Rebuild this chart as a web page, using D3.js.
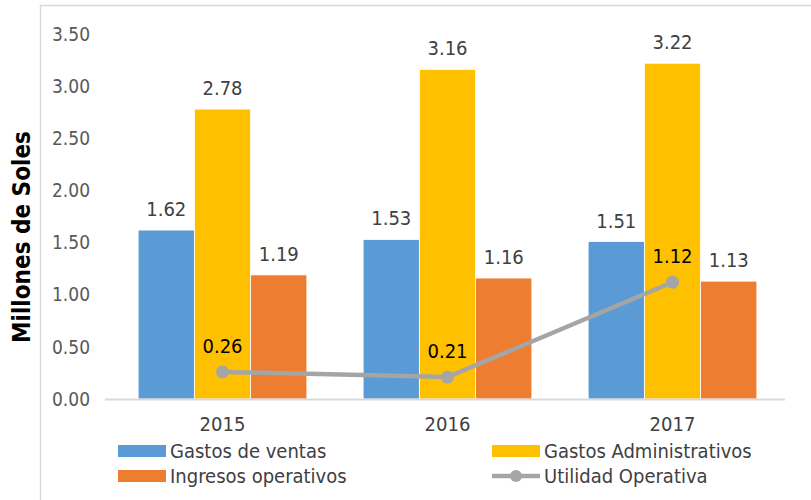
<!DOCTYPE html>
<html>
<head>
<meta charset="utf-8">
<script src="https://cdn.jsdelivr.net/npm/d3@7"></script>
<style>
  body { margin: 0; background: #fff; }
  text { font-family: "DejaVu Sans Condensed", "DejaVu Sans", sans-serif; }
</style>
</head>
<body>
<div id="chart"></div>
<script>
// data
const years = ["2015", "2016", "2017"];
const gastosVentas = [1.62, 1.53, 1.51];
const gastosAdmin = [2.78, 3.16, 3.22];
const ingresosOper = [1.19, 1.16, 1.13];
const utilidadOper = [0.26, 0.21, 1.12];
const yTicks = [0, 0.5, 1, 1.5, 2, 2.5, 3, 3.5];

const barSeries = [
    { name: "Gastos de ventas", values: gastosVentas, color: "#5B9BD5" },
    { name: "Gastos Administrativos", values: gastosAdmin, color: "#FFC000" },
    { name: "Ingresos operativos", values: ingresosOper, color: "#ED7D31" }
];

const width = 811, height = 500;
const svg = d3.select("#chart").append("svg")
    .attr("width", width)
    .attr("height", height);

// chart frame (left and top edge visible)
svg.append("line").attr("x1", 40.5).attr("x2", 40.5).attr("y1", 5).attr("y2", height)
    .attr("stroke", "#d9d9d9").attr("stroke-width", 1.5);
svg.append("line").attr("x1", 40).attr("x2", width).attr("y1", 5.5).attr("y2", 5.5)
    .attr("stroke", "#d9d9d9").attr("stroke-width", 1.5);

const x = d3.scaleBand().domain(years).range([110, 785]);
const y = d3.scaleLinear().domain([0, 3.5]).range([399, 34]);
const bw = x.bandwidth() / 4;

// y tick labels
svg.append("g").selectAll("text")
    .data(yTicks)
    .enter().append("text")
    .attr("x", 90)
    .attr("y", d => y(d))
    .attr("dy", "0.35em")
    .attr("text-anchor", "end")
    .attr("font-size", 19)
    .attr("fill", "#595959")
    .text(d => d.toFixed(2));

// y title
svg.append("text")
    .attr("transform", "translate(30,237) rotate(-90)")
    .attr("text-anchor", "middle")
    .attr("font-size", 24)
    .attr("font-weight", "bold")
    .attr("fill", "#000")
    .text("Millones de Soles");

// bars
barSeries.forEach((s, i) => {
    const g = svg.append("g");
    g.selectAll("rect")
        .data(s.values)
        .enter().append("rect")
        .attr("x", (d, j) => x(years[j]) + bw / 2 + i * bw)
        .attr("y", d => y(d))
        .attr("width", bw)
        .attr("height", d => y(0) - y(d))
        .attr("fill", s.color)
        .attr("stroke", "#fff")
        .attr("stroke-width", 0.8);
    g.selectAll("text")
        .data(s.values)
        .enter().append("text")
        .attr("x", (d, j) => x(years[j]) + bw / 2 + i * bw + bw / 2)
        .attr("y", d => y(d) - 14)
        .attr("text-anchor", "middle")
        .attr("font-size", 20)
        .attr("fill", "#404040")
        .text(d => d.toFixed(2));
});

// baseline
svg.append("line")
    .attr("x1", 105).attr("x2", 785)
    .attr("y1", y(0) + 0.5).attr("y2", y(0) + 0.5)
    .attr("stroke", "#d9d9d9").attr("stroke-width", 2);

// x labels
svg.append("g").selectAll("text")
    .data(years)
    .enter().append("text")
    .attr("x", d => x(d) + x.bandwidth() / 2)
    .attr("y", 431)
    .attr("text-anchor", "middle")
    .attr("font-size", 20)
    .attr("fill", "#404040")
    .text(d => d);

// line series
const line = d3.line()
    .x((d, j) => x(years[j]) + x.bandwidth() / 2)
    .y(d => y(d));

svg.append("path")
    .datum(utilidadOper)
    .attr("d", line)
    .attr("fill", "none")
    .attr("stroke", "#A5A5A5")
    .attr("stroke-width", 4.5);

svg.append("g").selectAll("circle")
    .data(utilidadOper)
    .enter().append("circle")
    .attr("cx", (d, j) => x(years[j]) + x.bandwidth() / 2)
    .attr("cy", d => y(d))
    .attr("r", 6.5)
    .attr("fill", "#A5A5A5");

svg.append("g").selectAll("text")
    .data(utilidadOper)
    .enter().append("text")
    .attr("x", (d, j) => x(years[j]) + x.bandwidth() / 2)
    .attr("y", d => y(d) - 19)
    .attr("text-anchor", "middle")
    .attr("font-size", 20)
    .attr("fill", "#000")
    .text(d => d.toFixed(2));

// legend
const legendItems = [
    { name: "Gastos de ventas", color: "#5B9BD5", type: "rect", x: 118, y: 451 },
    { name: "Gastos Administrativos", color: "#FFC000", type: "rect", x: 492, y: 451 },
    { name: "Ingresos operativos", color: "#ED7D31", type: "rect", x: 118, y: 476 },
    { name: "Utilidad Operativa", color: "#A5A5A5", type: "line", x: 492, y: 476 }
];
const lg = svg.append("g").selectAll("g")
    .data(legendItems)
    .enter().append("g")
    .attr("transform", d => `translate(${d.x},${d.y})`);

lg.filter(d => d.type === "rect").append("rect")
    .attr("x", 0).attr("y", -6)
    .attr("width", 48).attr("height", 12)
    .attr("fill", d => d.color);

lg.filter(d => d.type === "line").append("line")
    .attr("x1", 0).attr("x2", 48).attr("y1", 0).attr("y2", 0)
    .attr("stroke", d => d.color).attr("stroke-width", 4.5);
lg.filter(d => d.type === "line").append("circle")
    .attr("cx", 24).attr("cy", 0).attr("r", 6)
    .attr("fill", d => d.color);

lg.append("text")
    .attr("x", 52)
    .attr("y", 0)
    .attr("dy", "0.35em")
    .attr("font-size", 20)
    .attr("fill", "#404040")
    .text(d => d.name);
</script>
</body>
</html>
